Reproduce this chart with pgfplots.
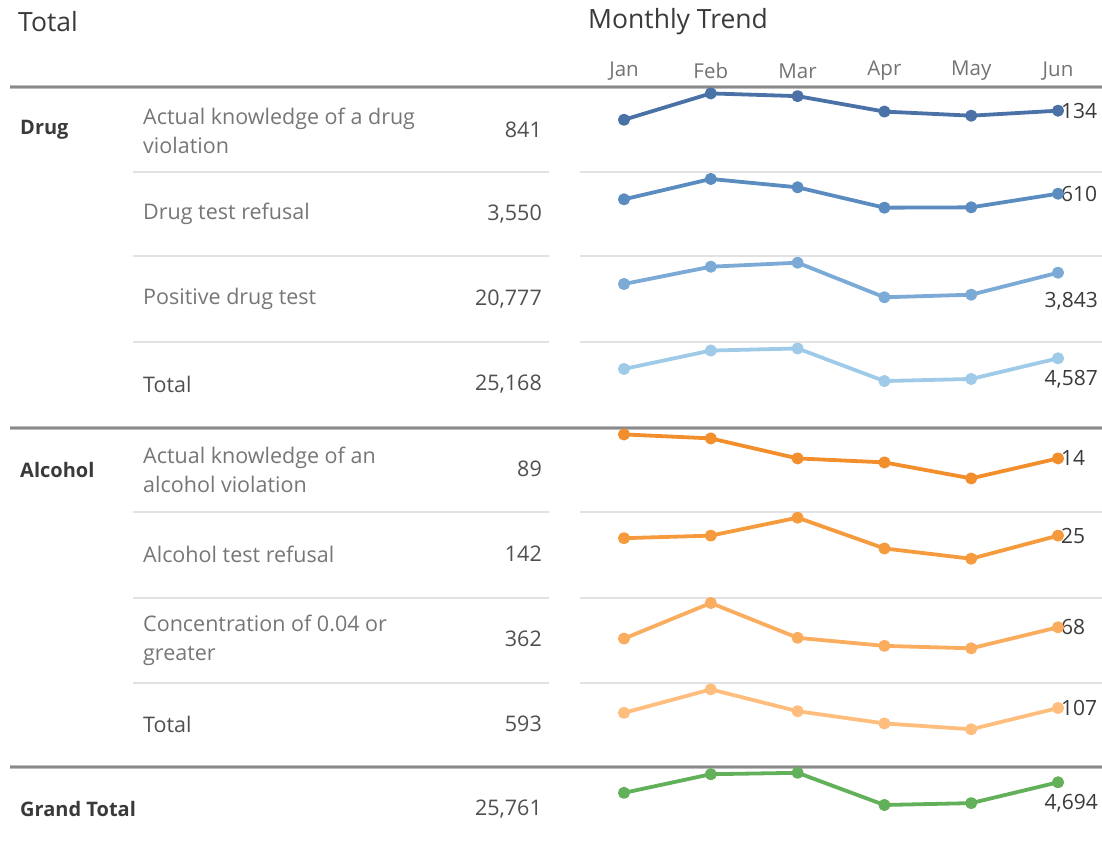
\documentclass[border=0pt]{standalone}
\usepackage{fontspec}
\setmainfont{Open Sans}
\usepackage{pgfplots}
\pgfplotsset{compat=1.18}
\definecolor{labgray}{HTML}{767676}
\definecolor{valgray}{HTML}{505050}
\definecolor{headgray}{HTML}{3A3A3A}
\definecolor{monthgray}{HTML}{737373}
\definecolor{septhin}{HTML}{E2E2E2}
\definecolor{sepdark}{HTML}{8A8A8A}
\definecolor{sepedge}{HTML}{BDBDBD}
\definecolor{cA}{HTML}{4A72A6}
\definecolor{cB}{HTML}{5B8CBF}
\definecolor{cC}{HTML}{7BAAD6}
\definecolor{cD}{HTML}{A0CBE8}
\definecolor{cE}{HTML}{F28E2B}
\definecolor{cF}{HTML}{F69B3D}
\definecolor{cG}{HTML}{FAAD5E}
\definecolor{cH}{HTML}{FFBE7D}
\definecolor{cI}{HTML}{62B05A}
\pgfplotsset{spark/.style={scale only axis, hide axis, clip=false, width=434pt,
  xmin=0, xmax=5, anchor=south west},
  sl/.style={line width=3.8pt, mark=*, mark size=4.1pt, line join=round}}
\tikzset{lab/.style={anchor=west, text=labgray, inner sep=0pt, align=left, font=\fontsize{21.5}{29}\selectfont},
  val/.style={anchor=east, text=valgray, inner sep=0pt, font=\fontsize{21.5}{24}\selectfont},
  head/.style={anchor=west, text=headgray, inner sep=0pt, font=\fontsize{20}{24}\selectfont\bfseries},
  mon/.style={text=monthgray, inner sep=0pt, font=\fontsize{20.5}{24}\selectfont},
  endl/.style={text=headgray, inner sep=0pt, font=\fontsize{21}{24}\selectfont}}
\begin{document}
\begin{tikzpicture}[x=1pt,y=1pt]
\path[use as bounding box] (0pt,0pt) rectangle (1102pt,-848pt);
% titles
\node[anchor=west, text=headgray, inner sep=0pt, font=\fontsize{26.5}{30}\selectfont] at (18pt,-22pt) {Total};
\node[anchor=west, text=headgray, inner sep=0pt, font=\fontsize{26.5}{30}\selectfont] at (588pt,-22pt) {Monthly Trend};
% months
\node[mon] at (624pt,-71pt) {Jan};
\node[mon] at (710.8pt,-71pt) {Feb};
\node[mon] at (797.6pt,-71pt) {Mar};
\node[mon] at (884.4pt,-71pt) {Apr};
\node[mon] at (971.2pt,-71pt) {May};
\node[mon] at (1058pt,-71pt) {Jun};
% separators
\foreach \yy in {172,256,342,512,598,683}{
  \draw[line width=1.6pt, septhin] (133pt,-\yy pt) -- (549pt,-\yy pt);
  \draw[line width=1.6pt, septhin] (580pt,-\yy pt) -- (1102pt,-\yy pt);
}
\foreach \yy in {87,428,767}{
  \draw[line width=3.6pt, sepedge] (10pt,-\yy pt) -- (1102pt,-\yy pt);
  \draw[line width=1.6pt, sepdark] (10pt,-\yy pt) -- (1102pt,-\yy pt);
}
% left table
\node[head] at (20pt,-130pt) {Drug};
\node[lab] at (143pt,-130.5pt) {Actual knowledge of a drug\\violation};
\node[val] at (542pt,-130pt) {841};
\node[lab] at (143pt,-214pt) {Drug test refusal};
\node[val] at (542pt,-214pt) {3,550};
\node[lab] at (143pt,-299pt) {Positive drug test};
\node[val] at (542pt,-299pt) {20,777};
\node[lab, text=valgray] at (143pt,-384pt) {Total};
\node[val] at (542pt,-384pt) {25,168};
\node[head] at (20pt,-470pt) {Alcohol};
\node[lab] at (143pt,-469.5pt) {Actual knowledge of an\\alcohol violation};
\node[val] at (542pt,-469pt) {89};
\node[lab] at (143pt,-554pt) {Alcohol test refusal};
\node[val] at (542pt,-554pt) {142};
\node[lab] at (143pt,-640.5pt) {Concentration of 0.04 or\\greater};
\node[val] at (542pt,-639pt) {362};
\node[lab, text=valgray] at (143pt,-724pt) {Total};
\node[val] at (542pt,-724pt) {593};
\node[head] at (20pt,-809pt) {Grand Total};
\node[val] at (542pt,-809pt) {25,761};
% sparklines
\begin{axis}[spark, at={(624pt,-172pt)}, height=85pt, ymin=-0.9, ymax=186.1]
\addplot[sl, cA] coordinates {(0,114) (1,172) (2,166) (3,132) (4,123) (5,134)};
\node[endl, anchor=west] at (axis cs:5,134) {\hspace{3pt}134};
\end{axis}
\begin{axis}[spark, at={(624pt,-256pt)}, height=84pt, ymin=43.7, ymax=807.3]
\addplot[sl, cB] coordinates {(0,559) (1,744) (2,668) (3,483) (4,486) (5,610)};
\node[endl, anchor=west] at (axis cs:5,610) {\hspace{3pt}610};
\end{axis}
\begin{axis}[spark, at={(624pt,-342pt)}, height=86pt, ymin=70, ymax=4752]
\addplot[sl, cC] coordinates {(0,3228) (1,4170) (2,4387) (3,2504) (4,2645) (5,3843)};
\node[endl, anchor=east] at ([xshift=40pt,yshift=-29pt]axis cs:5,3843) {3,843};
\end{axis}
\begin{axis}[spark, at={(624pt,-428pt)}, height=86pt, ymin=91, ymax=5638]
\addplot[sl, cD] coordinates {(0,3901) (1,5086) (2,5221) (3,3119) (4,3254) (5,4587)};
\node[endl, anchor=east] at ([xshift=40pt,yshift=-21pt]axis cs:5,4587) {4,587};
\end{axis}
\begin{axis}[spark, at={(624pt,-512pt)}, height=84pt, ymin=0.6, ymax=21.6]
\addplot[sl, cE] coordinates {(0,20) (1,19) (2,14) (3,13) (4,9) (5,14)};
\node[endl, anchor=west] at (axis cs:5,14) {\hspace{3pt}14};
\end{axis}
\begin{axis}[spark, at={(624pt,-598pt)}, height=86pt, ymin=0.7, ymax=34.2]
\addplot[sl, cF] coordinates {(0,24) (1,25) (2,32) (3,20) (4,16) (5,25)};
\node[endl, anchor=west] at (axis cs:5,25) {\hspace{3pt}25};
\end{axis}
\begin{axis}[spark, at={(624pt,-683pt)}, height=85pt, ymin=-0.9, ymax=104.2]
\addplot[sl, cG] coordinates {(0,54) (1,98) (2,55) (3,45) (4,42) (5,68)};
\node[endl, anchor=west] at (axis cs:5,68) {\hspace{3pt}68};
\end{axis}
\begin{axis}[spark, at={(624pt,-767pt)}, height=84pt, ymin=-3.9, ymax=154]
\addplot[sl, cH] coordinates {(0,98) (1,142) (2,101) (3,78) (4,67) (5,107)};
\node[endl, anchor=west] at (axis cs:5,107) {\hspace{3pt}107};
\end{axis}
\begin{axis}[spark, at={(624pt,-848pt)}, height=81pt, ymin=358, ymax=5704]
\addplot[sl, cI] coordinates {(0,3999) (1,5228) (2,5322) (3,3197) (4,3321) (5,4694)};
\node[endl, anchor=east] at ([xshift=40pt,yshift=-21pt]axis cs:5,4694) {4,694};
\end{axis}
\end{tikzpicture}
\end{document}
